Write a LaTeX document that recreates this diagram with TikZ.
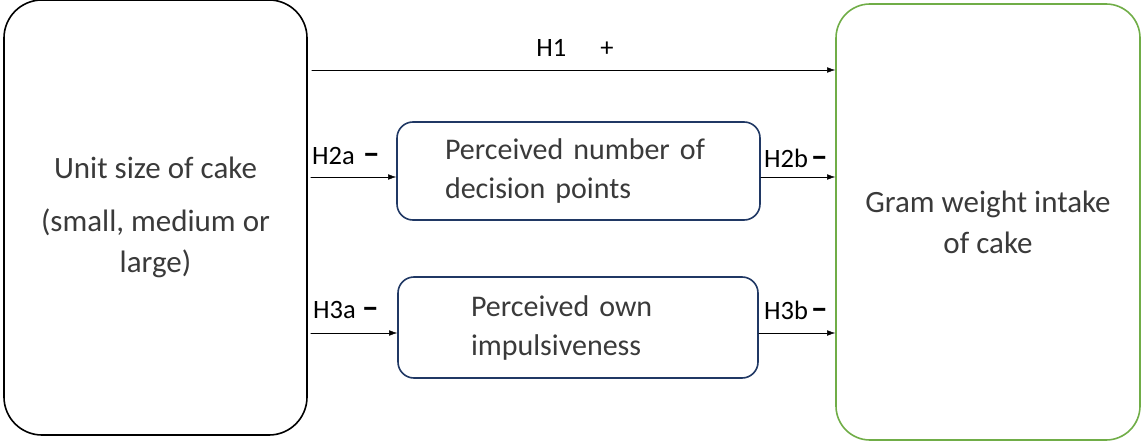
\documentclass[tikz,border=0pt]{standalone}
\usepackage{fontspec}
\setmainfont{Carlito}
\usetikzlibrary{arrows.meta}
\definecolor{boxgreen}{HTML}{70AD47}
\definecolor{boxblue}{HTML}{203864}
\definecolor{txtgray}{HTML}{3A3A3A}
\newcommand{\negsign}{{\fontsize{34}{34}\bfseries –}}
\begin{document}
\begin{tikzpicture}[x=1pt,y=-1pt,line cap=round,line join=round,>={Latex[length=8pt,width=5.5pt]},
	bigbox/.style={draw,line width=1.6pt,rounded corners=38pt,text=txtgray,align=center,font=\fontsize{31}{41}\selectfont},
	midbox/.style={draw=boxblue,line width=1.6pt,rounded corners=16pt,text=txtgray,align=left,font=\fontsize{30}{39}\selectfont},
	hlab/.style={font=\fontsize{26.5}{30}\selectfont,inner sep=0pt}]
	\useasboundingbox (0,0) rectangle (1142,441);
	\node[bigbox,minimum width=303,minimum height=435] (unit) at (155.5,217.5)
		{Unit size of cake\\[12pt](small, medium or\\large)};
	\node[bigbox,draw=boxgreen,rounded corners=34pt,minimum width=304,minimum height=436] (intake) at (988,222)
		{Gram weight intake\\of cake};
	\node[midbox,minimum width=363,minimum height=98,text width=267] (points) at (578.5,171)
		{\mbox{Perceived number of}\\\mbox{decision points}};
	\node[midbox,minimum width=360,minimum height=101,text width=214] (impuls) at (578,327.5)
		{\mbox{Perceived own}\\\mbox{impulsiveness}};
	\draw[->] ([xshift=4]unit.east |- 0,70) -- (intake.west |- 0,70);
	\draw[->] ([xshift=3]unit.east |- 0,177) -- (points.west |- 0,177);
	\draw[->] (points.east |- 0,177) -- (intake.west |- 0,177);
	\draw[->] ([xshift=3]unit.east |- 0,333) -- (impuls.west |- 0,333);
	\draw[->] (impuls.east |- 0,333) -- (intake.west |- 0,333);
	\node[hlab] (h1) at (575,48) {H1\hspace{34pt}+};
	\node[hlab] (h2a) at (346,156) {H2a\hspace{8pt}\negsign};
	\node[hlab] (h2b) at (796,158) {H2b\hspace{3pt}\negsign};
	\node[hlab] (h3a) at (346,310) {H3a\hspace{6pt}\negsign};
	\node[hlab] (h3b) at (796,310) {H3b\hspace{3pt}\negsign};
\end{tikzpicture}
\end{document}
